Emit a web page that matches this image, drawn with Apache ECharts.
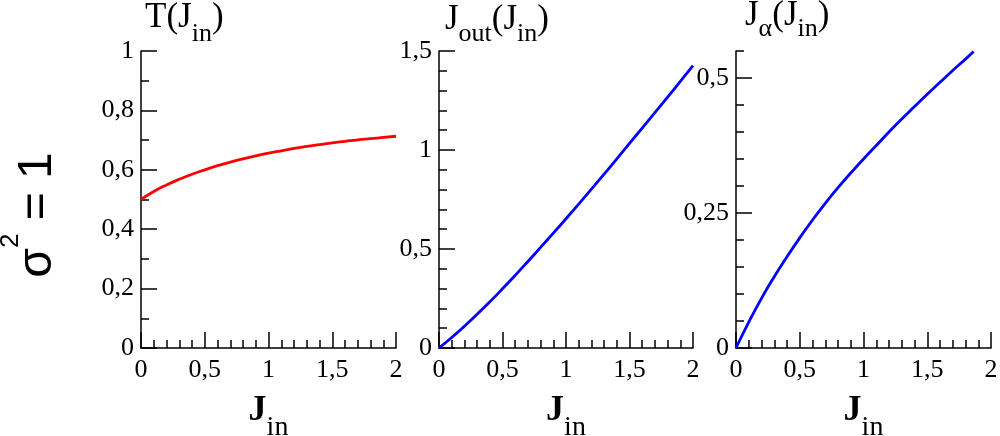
<!DOCTYPE html>
<html>
<head>
<meta charset="utf-8">
<script src="https://cdn.jsdelivr.net/npm/echarts@6/dist/echarts.min.js"></script>
<style>
  html, body { margin: 0; padding: 0; background: #fff; }
  #main { width: 1000px; height: 436px; }
</style>
</head>
<body>
<div id="main"></div>
<script>
var chartDom = document.getElementById('main');
var myChart = echarts.init(chartDom);
var option;

// data
const jIn = [0, 0.1, 0.2, 0.3, 0.4, 0.5, 0.6, 0.7, 0.8, 0.9, 1.0,
             1.1, 1.2, 1.3, 1.4, 1.5, 1.6, 1.7, 1.8, 1.9, 2.0];
const tVals = [0.500, 0.527, 0.549, 0.568, 0.585, 0.600, 0.614, 0.626, 0.637, 0.647, 0.656,
               0.664, 0.672, 0.679, 0.685, 0.691, 0.696, 0.701, 0.705, 0.709, 0.713];
const jOutVals = [0, 0.053, 0.110, 0.170, 0.233, 0.299, 0.367, 0.437, 0.508, 0.580, 0.653,
                  0.727, 0.802, 0.878, 0.955, 1.033, 1.111, 1.189, 1.267, 1.346, 1.426];
const jAlphaIn = [0, 0.1, 0.2, 0.3, 0.4, 0.5, 0.6, 0.7, 0.8, 0.9, 1.0,
                  1.1, 1.2, 1.3, 1.4, 1.5, 1.6, 1.7, 1.8, 1.864];
const jAlphaVals = [0, 0.048, 0.092, 0.132, 0.169, 0.204, 0.237, 0.268, 0.297, 0.324, 0.350,
                    0.375, 0.400, 0.424, 0.447, 0.470, 0.492, 0.514, 0.535, 0.549];

const xTicks = [0, 0.5, 1, 1.5, 2];
const tTicks = [0, 0.2, 0.4, 0.6, 0.8, 1];
const jOutTicks = [0, 0.5, 1, 1.5];
const jAlphaTicks = [0, 0.25, 0.5];

const serif = 'Liberation Serif';
const fmt = v => String(+v.toFixed(4)).replace('.', ',');
const pairs = (xs, ys) => xs.map((x, i) => [x, ys[i]]);

const line = { show: true, onZero: false, lineStyle: { color: '#000', width: 1.5 } };
const label = { color: '#000', fontFamily: serif, fontSize: 26 };

function xAxis(grid) {
    return {
        type: 'value', gridIndex: grid, min: 0, max: 2, interval: 0.5,
        axisLine: line,
        axisTick: { show: true, inside: true, length: 16, lineStyle: { color: '#000', width: 1.5 } },
        minorTick: { show: true, splitNumber: 5, length: 8, lineStyle: { color: '#000', width: 1.5 } },
        splitLine: { show: false },
        axisLabel: Object.assign({ margin: 9, formatter: fmt, customValues: xTicks }, label),
        name: '{j|J}{s|in}',
        nameLocation: 'middle',
        nameGap: 45,
        nameTextStyle: {
            fontFamily: serif,
            rich: {
                j: { fontFamily: serif, fontSize: 36, fontWeight: 'bold', color: '#000', verticalAlign: 'top' },
                s: { fontFamily: serif, fontSize: 28, color: '#000', verticalAlign: 'top', padding: [21, 0, 0, 0] }
            }
        }
    };
}

function yAxis(grid, max, interval, split, ticks) {
    return {
        type: 'value', gridIndex: grid, position: 'left', min: 0, max: max, interval: interval,
        axisLine: line,
        axisTick: { show: true, inside: true, length: 16, lineStyle: { color: '#000', width: 1.5 } },
        minorTick: { show: true, splitNumber: split, length: 8, lineStyle: { color: '#000', width: 1.5 } },
        splitLine: { show: false },
        axisLabel: Object.assign({ margin: 7, formatter: fmt, customValues: ticks }, label)
    };
}

// third panel: axis ends at 0.55, so short ticks every 0.05 and long ones on an overlay axis
const alphaMinor = {
    type: 'value', gridIndex: 2, position: 'left', min: 0, max: 0.55, interval: 0.05,
    axisLine: line,
    axisTick: { show: true, inside: true, length: 8, lineStyle: { color: '#000', width: 1.5 } },
    splitLine: { show: false },
    axisLabel: Object.assign({ margin: 7, formatter: fmt, customValues: jAlphaTicks }, label)
};
const alphaMajor = {
    type: 'value', gridIndex: 2, position: 'left', min: 0, max: 0.55,
    axisLine: { show: false },
    axisTick: { show: true, inside: true, length: 16, customValues: jAlphaTicks,
                lineStyle: { color: '#000', width: 1.5 } },
    splitLine: { show: false },
    axisLabel: { show: false }
};

function title(text, left, top, pad) {
    return {
        type: 'text', left: left, top: top,
        style: {
            text: text,
            rich: {
                m: { fontFamily: serif, fontSize: 35, fill: '#000', verticalAlign: 'top' },
                s: { fontFamily: serif, fontSize: 26, fill: '#000', verticalAlign: 'top', padding: [pad, 0, 0, 0] }
            }
        }
    };
}

option = {
    animation: false,
    backgroundColor: '#fff',
    grid: [
        { left: 141, top: 51, width: 255, height: 297, outerBoundsMode: 'none', containLabel: false },
        { left: 439, top: 51, width: 254, height: 297, outerBoundsMode: 'none', containLabel: false },
        { left: 736, top: 51, width: 255, height: 297, outerBoundsMode: 'none', containLabel: false }
    ],
    xAxis: [xAxis(0), xAxis(1), xAxis(2)],
    yAxis: [
        yAxis(0, 1, 0.2, 2, tTicks),
        yAxis(1, 1.5, 0.5, 5, jOutTicks),
        alphaMinor,
        alphaMajor
    ],
    series: [
        {
            type: 'line', xAxisIndex: 0, yAxisIndex: 0, data: pairs(jIn, tVals),
            showSymbol: false, smooth: true, lineStyle: { color: '#ff0000', width: 2.8 }
        },
        {
            type: 'line', xAxisIndex: 1, yAxisIndex: 1, data: pairs(jIn, jOutVals),
            showSymbol: false, smooth: true, lineStyle: { color: '#0000ff', width: 2.8 }
        },
        {
            type: 'line', xAxisIndex: 2, yAxisIndex: 2, data: pairs(jAlphaIn, jAlphaVals),
            showSymbol: false, smooth: true, lineStyle: { color: '#0000ff', width: 2.8 }
        }
    ],
    graphic: [
        title('{m|T(J}{s|in}{m|)}', 145, 0, 21),
        title('{m|J}{s|out}{m|(J}{s|in}{m|)}', 445, 2, 19),
        title('{m|J}{s|α}{m|(J}{s|in}{m|)}', 745, -2, 18),
        {
            type: 'text', x: 30, y: 215, rotation: Math.PI / 2,
            style: {
                text: '{m|σ}{s|2}{m| = 1}',
                align: 'center', verticalAlign: 'middle',
                rich: {
                    m: { fontFamily: 'Liberation Sans', fontSize: 48, fill: '#000', verticalAlign: 'top', padding: [16, 0, 0, 0] },
                    s: { fontFamily: 'Liberation Sans', fontSize: 26, fill: '#000', verticalAlign: 'top' }
                }
            }
        }
    ]
};

option && myChart.setOption(option);
</script>
</body>
</html>
